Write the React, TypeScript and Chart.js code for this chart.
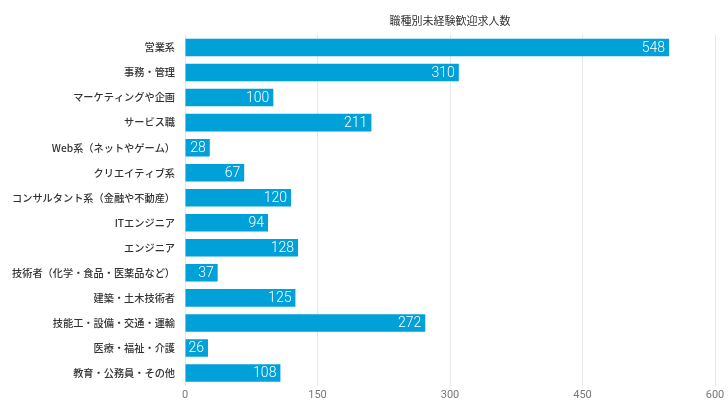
import React, { useEffect, useRef } from "react";
import { Chart, registerables } from "chart.js";

Chart.register(...registerables);

const title = "職種別未経験歓迎求人数";
const categories = [
  "営業系",
  "事務・管理",
  "マーケティングや企画",
  "サービス職",
  "Web系（ネットやゲーム）",
  "クリエイティブ系",
  "コンサルタント系（金融や不動産）",
  "ITエンジニア",
  "エンジニア",
  "技術者（化学・食品・医薬品など）",
  "建築・土木技術者",
  "技能工・設備・交通・運輸",
  "医療・福祉・介護",
  "教育・公務員・その他",
];
const values = [548, 310, 100, 211, 28, 67, 120, 94, 128, 37, 125, 272, 26, 108];
const xTicks = [0, 150, 300, 450, 600];

const BAR_COLOR = "#00a0d9";
const FONT = "'Noto Sans CJK JP', 'Noto Sans', sans-serif";
const NUM_FONT = "Roboto, 'Liberation Sans', sans-serif";

const titlePlugin = {
  id: "areaTitle",
  afterDraw(chart: any) {
    const { ctx, chartArea } = chart;
    ctx.save();
    ctx.font = `11px ${FONT}`;
    ctx.fillStyle = "#333333";
    ctx.textAlign = "center";
    ctx.textBaseline = "middle";
    ctx.fillText(title, (chartArea.left + chartArea.right) / 2, 20.5);
    ctx.restore();
  },
};

const valueLabelPlugin = {
  id: "valueLabels",
  afterDatasetsDraw(chart: any) {
    const { ctx } = chart;
    const meta = chart.getDatasetMeta(0);
    ctx.save();
    ctx.font = `300 14px ${NUM_FONT}`;
    ctx.fillStyle = "#ffffff";
    ctx.textAlign = "right";
    ctx.textBaseline = "middle";
    meta.data.forEach((bar: any, i: number) => {
      const v = chart.data.datasets[0].data[i];
      ctx.fillText(String(v), bar.x - 4, bar.y + 0.5);
    });
    ctx.restore();
  },
};

export default function App() {
  const ref = useRef<HTMLCanvasElement>(null);
  useEffect(() => {
    if (!ref.current) return;
    const chart = new Chart(ref.current, {
      type: "bar",
      data: {
        labels: categories,
        datasets: [
          {
            data: values,
            backgroundColor: BAR_COLOR,
            borderWidth: 0,
            barPercentage: 0.7,
            categoryPercentage: 1,
          },
        ],
      },
      options: {
        indexAxis: "y",
        animation: false,
        responsive: false,
        maintainAspectRatio: false,
        layout: { padding: { top: 35, right: 13, bottom: 0, left: 0 } },
        plugins: {
          legend: { display: false },
          title: { display: false },
          tooltip: { enabled: false },
        },
        scales: {
          x: {
            min: 0,
            max: 600,
            afterBuildTicks(scale: any) {
              scale.ticks = xTicks.map((v) => ({ value: v }));
            },
            afterFit(scale: any) {
              scale.height = 34.5;
            },
            grid: { color: "#e6e6e6", drawTicks: false, lineWidth: 1 },
            border: { display: false },
            ticks: {
              padding: 3,
              color: "#777777",
              font: { family: NUM_FONT, size: 11 },
            },
          },
          y: {
            afterFit(scale: any) {
              scale.width = 185;
            },
            grid: { display: false, drawTicks: false },
            border: { display: false },
            ticks: {
              padding: 10,
              color: "#333333",
              font: { family: FONT, size: 10.2, weight: "500" },
            },
          },
        },
      },
      plugins: [titlePlugin, valueLabelPlugin],
    });
    return () => chart.destroy();
  }, []);
  return (
    <div style={{ position: "absolute", left: 0, top: 0, width: 728, height: 420, background: "#fff" }}>
      <canvas ref={ref} width={728} height={420} style={{ width: 728, height: 420 }} />
    </div>
  );
}
